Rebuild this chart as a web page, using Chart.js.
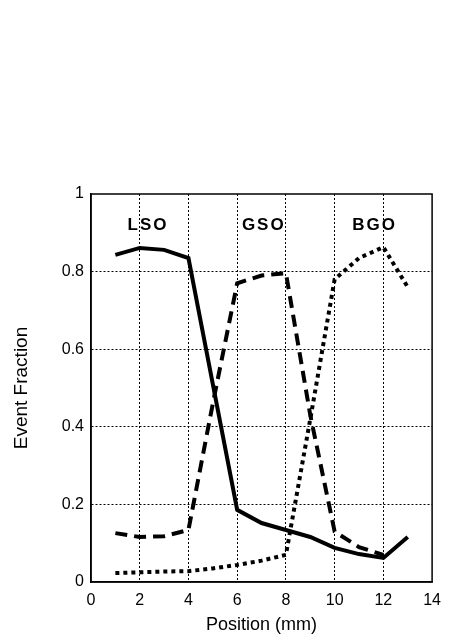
<!DOCTYPE html>
<html>
<head>
<meta charset="utf-8">
<script src="https://cdn.jsdelivr.net/npm/chart.js@4"></script>
<style>
  html, body { margin: 0; padding: 0; background: #fff; }
  #wrap { width: 450px; height: 642px; position: relative; }
</style>
</head>
<body>
<div id="wrap"><canvas id="chart"></canvas></div>
<script>
const positions = [1, 2, 3, 4, 5, 6, 7, 8, 9, 10, 11, 12, 13];
const lsoValues = [0.843, 0.861, 0.856, 0.835, 0.51, 0.186, 0.152, 0.134, 0.116, 0.088, 0.072, 0.062, 0.116];
const gsoValues = [0.126, 0.116, 0.118, 0.134, 0.46, 0.77, 0.79, 0.796, 0.43, 0.13, 0.09, 0.07, null];
const bgoValues = [0.023, 0.025, 0.027, 0.028, 0.035, 0.044, 0.055, 0.07, 0.42, 0.78, 0.835, 0.863, 0.76];
const regionLabels = [
    { text: 'LSO', x: 2.3, y: 0.92 },
    { text: 'GSO', x: 7.05, y: 0.92 },
    { text: 'BGO', x: 11.6, y: 0.92 },
];

const fontFamily = '"Liberation Sans", Arial, sans-serif';

function toPoints(values) {
    return positions.map(function (x, i) { return { x: x, y: values[i] }; });
}

const boxAndLabels = {
    id: 'boxAndLabels',
    afterDraw(chart) {
        const ctx = chart.ctx;
        const area = chart.chartArea;
        const xs = chart.scales.x;
        const ys = chart.scales.y;
        ctx.save();
        ctx.strokeStyle = '#000';
        ctx.lineWidth = 1.5;
        ctx.strokeRect(area.left, area.top, area.right - area.left, area.bottom - area.top);
        ctx.fillStyle = '#000';
        ctx.font = 'bold 17px ' + fontFamily;
        ctx.letterSpacing = '2px';
        ctx.textAlign = 'center';
        ctx.textBaseline = 'middle';
        regionLabels.forEach(function (l) {
            ctx.fillText(l.text, xs.getPixelForValue(l.x) + 1, ys.getPixelForValue(l.y));
        });
        ctx.restore();
    },
};

function gridColor(ctx) {
    const v = ctx.tick ? ctx.tick.value : null;
    if (v === null) return 'rgba(0,0,0,0)';
    if (ctx.scale.axis === 'x' && (v === 0 || v === 14)) return 'rgba(0,0,0,0)';
    if (ctx.scale.axis === 'y' && (v === 0 || Math.abs(v - 1) < 1e-9)) return 'rgba(0,0,0,0)';
    return '#000';
}

new Chart(document.getElementById('chart'), {
    type: 'line',
    data: {
        datasets: [
            {
                label: 'LSO',
                data: toPoints(lsoValues),
                borderColor: '#000',
                borderWidth: 4,
                pointRadius: 0,
                tension: 0,
            },
            {
                label: 'GSO',
                data: toPoints(gsoValues),
                borderColor: '#000',
                borderWidth: 4,
                borderDash: [12, 7],
                pointRadius: 0,
                tension: 0,
            },
            {
                label: 'BGO',
                data: toPoints(bgoValues),
                borderColor: '#000',
                borderWidth: 4,
                borderDash: [4, 4],
                pointRadius: 0,
                tension: 0,
            },
        ],
    },
    options: {
        responsive: true,
        maintainAspectRatio: false,
        animation: false,
        layout: { padding: { top: 194, right: 17, left: 10, bottom: 0 } },
        plugins: {
            legend: { display: false },
            tooltip: { enabled: false },
        },
        scales: {
            x: {
                type: 'linear',
                min: 0,
                max: 14,
                ticks: {
                    stepSize: 2,
                    color: '#000',
                    font: { family: fontFamily, size: 16 },
                    padding: 9,
                },
                grid: { color: gridColor, lineWidth: 1, drawTicks: false },
                border: { display: true, color: '#000', width: 1.5, dash: [2, 2] },
                title: {
                    display: true,
                    text: 'Position (mm)',
                    color: '#000',
                    font: { family: fontFamily, size: 18 },
                    padding: { top: 0, bottom: 6 },
                },
                afterFit(scale) { scale.height = 60; },
            },
            y: {
                min: 0,
                max: 1,
                ticks: {
                    stepSize: 0.2,
                    color: '#000',
                    font: { family: fontFamily, size: 16 },
                    padding: 7,
                    callback: function (v) { return Math.round(v * 10) / 10; },
                },
                grid: { color: gridColor, lineWidth: 1, drawTicks: false },
                border: { display: true, color: '#000', width: 1.5, dash: [2, 2] },
                title: {
                    display: true,
                    text: 'Event Fraction',
                    color: '#000',
                    font: { family: fontFamily, size: 19 },
                    padding: { top: 0, bottom: 8 },
                },
                afterFit(scale) { scale.width = 81; },
            },
        },
    },
    plugins: [boxAndLabels],
});
</script>
</body>
</html>
